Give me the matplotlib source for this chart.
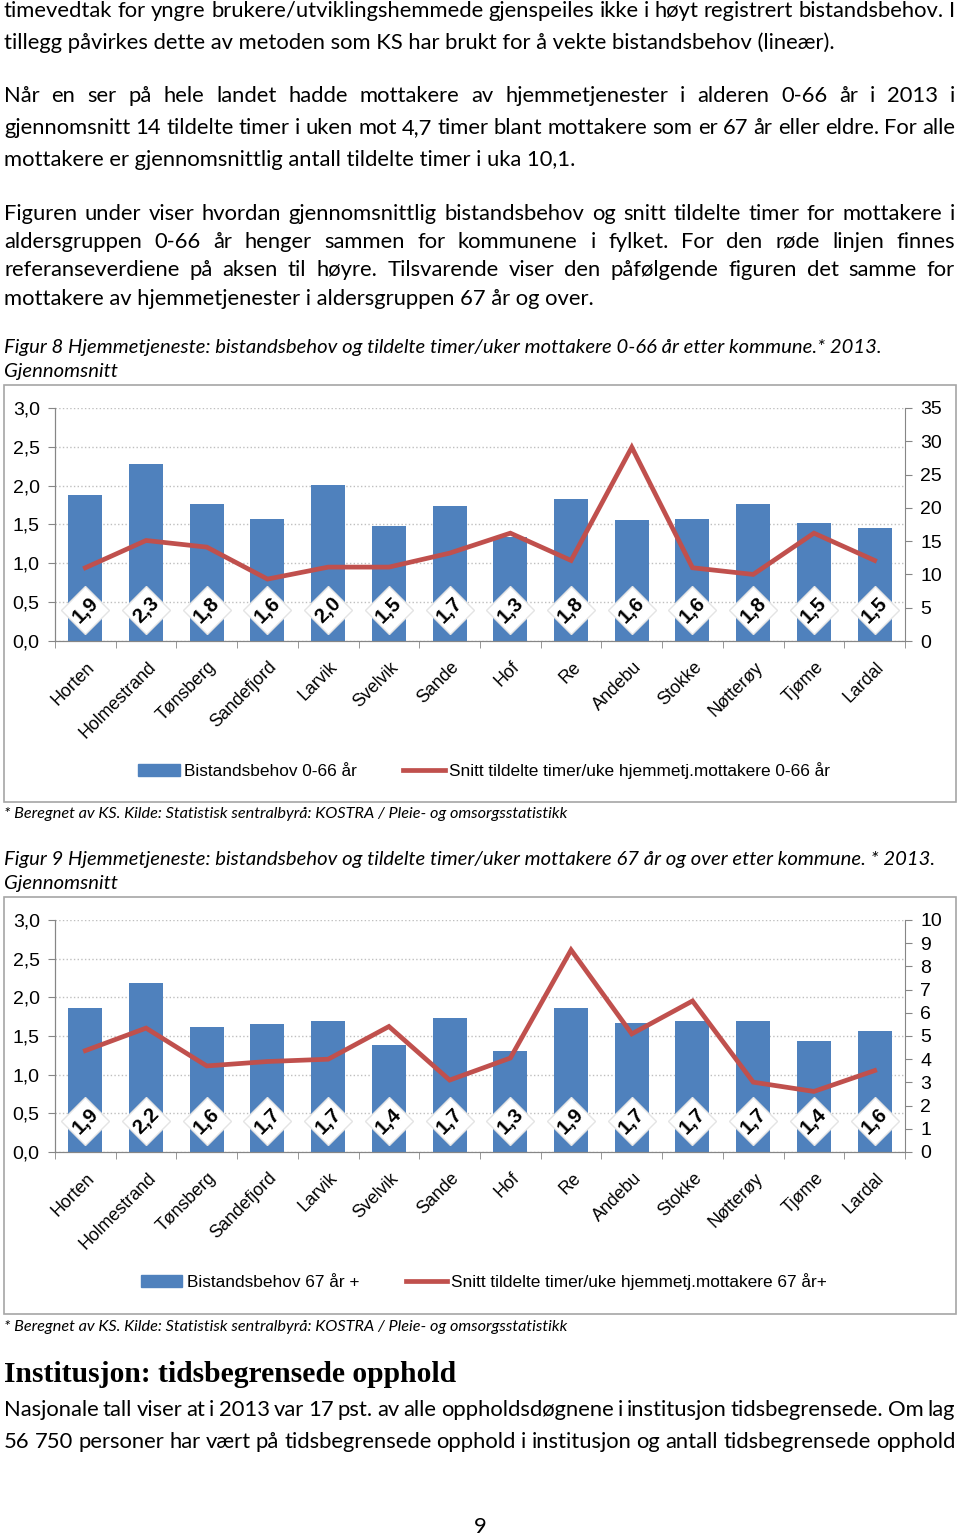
import matplotlib
matplotlib.use('Agg')
import matplotlib.pyplot as plt
from matplotlib.patches import Rectangle, Patch
from matplotlib.lines import Line2D
from matplotlib.transforms import ScaledTranslation

W, H = 960, 1537

# kommuner og verdier
kommuner = ['Horten', 'Holmestrand', 'Tønsberg', 'Sandefjord', 'Larvik', 'Svelvik', 'Sande',
            'Hof', 'Re', 'Andebu', 'Stokke', 'Nøtterøy', 'Tjøme', 'Lardal']

# Figur 8: 0-66 år
behov_066 = [1.88, 2.28, 1.77, 1.57, 2.01, 1.48, 1.74, 1.34, 1.83, 1.56, 1.57, 1.76, 1.52, 1.46]
timer_066 = [11.0, 15.1, 14.1, 9.3, 11.1, 11.1, 13.2, 16.2, 12.1, 29.1, 11.0, 10.0, 16.2, 12.1]

# Figur 9: 67 år og over
behov_67 = [1.86, 2.19, 1.61, 1.66, 1.70, 1.38, 1.73, 1.30, 1.86, 1.67, 1.70, 1.69, 1.43, 1.56]
timer_67 = [4.37, 5.34, 3.71, 3.90, 4.0, 5.41, 3.10, 4.05, 8.71, 5.09, 6.51, 3.01, 2.61, 3.51]

blaa = '#4F81BD'
roed = '#C0504D'
graa = '#868686'
chart_font = ['Liberation Sans Narrow', 'Liberation Sans', 'DejaVu Sans']
body_font = ['Lato', 'DejaVu Sans']

fig = plt.figure(figsize=(W / 100, H / 100), dpi=100)
renderer = fig.canvas.get_renderer()


def fx(x):
    return x / W


def fy(y):
    return 1 - y / H


def tekstlinje(y, tekst, justify=False, x0=4, x1=955, **kw):
    kw.setdefault('family', body_font)
    kw.setdefault('fontsize', 15.8)
    if not justify:
        fig.text(fx(x0), fy(y), tekst, va='center', ha='left', **kw)
        return
    ord_ = tekst.split(' ')
    bredder = []
    objs = []
    for o in ord_:
        t = fig.text(0, fy(y), o, va='center', ha='left', **kw)
        bredder.append(t.get_window_extent(renderer).width)
        objs.append(t)
    gap = (x1 - x0 - sum(bredder)) / (len(ord_) - 1)
    x = x0
    for t, b in zip(objs, bredder):
        t.set_x(fx(x))
        x += b + gap


# brødtekst
tekstlinje(11, 'timevedtak for yngre brukere/utviklingshemmede gjenspeiles ikke i høyt registrert bistandsbehov. I', True)
tekstlinje(43, 'tillegg påvirkes dette av metoden som KS har brukt for å vekte bistandsbehov (lineær).')
tekstlinje(96, 'Når en ser på hele landet hadde mottakere av hjemmetjenester i alderen 0-66 år i 2013 i', True)
tekstlinje(128, 'gjennomsnitt 14 tildelte timer i uken mot 4,7 timer blant mottakere som er 67 år eller eldre. For alle', True)
tekstlinje(160, 'mottakere er gjennomsnittlig antall tildelte timer i uka 10,1.')
tekstlinje(214, 'Figuren under viser hvordan gjennomsnittlig bistandsbehov og snitt tildelte timer for mottakere i', True)
tekstlinje(242, 'aldersgruppen 0-66 år henger sammen for kommunene i fylket. For den røde linjen finnes', True)
tekstlinje(270, 'referanseverdiene på aksen til høyre. Tilsvarende viser den påfølgende figuren det samme for', True)
tekstlinje(299, 'mottakere av hjemmetjenester i aldersgruppen 67 år og over.')

tekstlinje(347, 'Figur 8 Hjemmetjeneste: bistandsbehov og tildelte timer/uker mottakere 0-66 år etter kommune.* 2013.',
           style='italic', fontsize=14.6)
tekstlinje(372, 'Gjennomsnitt', style='italic', fontsize=14.6)
tekstlinje(814, '* Beregnet av KS. Kilde: Statistisk sentralbyrå: KOSTRA / Pleie- og omsorgsstatistikk',
           style='italic', fontsize=11.7)
tekstlinje(859, 'Figur 9 Hjemmetjeneste: bistandsbehov og tildelte timer/uker mottakere 67 år og over etter kommune. * 2013.',
           style='italic', fontsize=14.6)
tekstlinje(884, 'Gjennomsnitt', style='italic', fontsize=14.6)
tekstlinje(1327, '* Beregnet av KS. Kilde: Statistisk sentralbyrå: KOSTRA / Pleie- og omsorgsstatistikk',
           style='italic', fontsize=11.7)
tekstlinje(1375, 'Institusjon: tidsbegrensede opphold', family=['Liberation Serif', 'DejaVu Serif'],
           weight='bold', fontsize=21.3)
tekstlinje(1410, 'Nasjonale tall viser at i 2013 var 17 pst. av alle oppholdsdøgnene i institusjon tidsbegrensede. Om lag', True)
tekstlinje(1442, '56 750 personer har vært på tidsbegrensede opphold i institusjon og antall tidsbegrensede opphold', True)
fig.text(fx(480), fy(1527), '9', ha='center', va='center', family=body_font, fontsize=15.8)


def diagram(ramme_top, ramme_bunn, topp, bunn, behov, timer, ymax2, steg2, navn_bar, navn_linje):
    fig.add_artist(Rectangle((fx(4), fy(ramme_bunn)), fx(952), (ramme_bunn - ramme_top) / H,
                             transform=fig.transFigure, fill=False, edgecolor='#A6A6A6', lw=1.2))
    ax = fig.add_axes([fx(55), fy(bunn), fx(905 - 55), (bunn - topp) / H])
    ax2 = ax.twinx()
    x = list(range(len(kommuner)))

    ax.bar(x, behov, width=0.56, color=blaa, zorder=2)
    ax.set_ylim(0, 3)
    ax.set_xlim(-0.5, len(kommuner) - 0.5)
    ax.set_yticks([0, 0.5, 1.0, 1.5, 2.0, 2.5, 3.0])
    ax.set_yticklabels([f'{v:.1f}'.replace('.', ',') for v in ax.get_yticks()])
    ax.yaxis.grid(True, linestyle=':', color='#BFBFBF', lw=1)
    ax.set_axisbelow(True)

    # verdimerker i ruter
    ax.plot(x, [0.40] * len(x), linestyle='none', marker='D', ms=24,
            markerfacecolor='white', markeredgecolor='#E4E4E4', zorder=3)
    for xi, v in zip(x, behov):
        ax.text(xi, 0.40, f'{v:.1f}'.replace('.', ','), rotation=45, ha='center', va='center',
                rotation_mode='anchor', family=chart_font, weight='bold', fontsize=14.5, zorder=4)

    ax2.plot(x, timer, color=roed, lw=3.4, solid_joinstyle='miter', zorder=5)
    ax2.set_ylim(0, ymax2)
    ax2.set_yticks(range(0, ymax2 + 1, steg2))

    ax.set_xticks(x)
    ax.set_xticklabels(kommuner, rotation=45, ha='right', va='center', rotation_mode='anchor',
                       family=chart_font, fontsize=12.8)
    ax.tick_params(axis='x', length=0, pad=17)
    skift = ScaledTranslation(7 / 100, 0, fig.dpi_scale_trans)
    for lab in ax.get_xticklabels():
        lab.set_transform(lab.get_transform() + skift)
    ax.set_xticks([i + 0.5 for i in range(-1, len(kommuner))], minor=True)
    ax.tick_params(axis='x', which='minor', length=5, color=graa)

    for a in (ax, ax2):
        for s in a.spines.values():
            s.set_color(graa)
        a.spines['top'].set_visible(False)
        a.tick_params(axis='y', length=5, color=graa, labelsize=14, pad=6)
        for lab in a.get_yticklabels():
            lab.set_family(chart_font)
    ax.spines['right'].set_visible(False)

    handles = [Patch(color=blaa), Line2D([0], [0], color=roed, lw=3.4)]
    fig.legend(handles, [navn_bar, navn_linje], loc='center', ncol=2, frameon=False,
               bbox_to_anchor=(fx(484), fy(bunn + 130)), prop={'family': chart_font, 'size': 12.4},
               handlelength=2.4, handleheight=0.7, handletextpad=0.25, columnspacing=2.7)


diagram(385, 802, 408, 641, behov_066, timer_066, 35, 5,
        'Bistandsbehov 0-66 år', 'Snitt tildelte timer/uke hjemmetj.mottakere 0-66 år')
diagram(897, 1314, 920, 1152, behov_67, timer_67, 10, 1,
        'Bistandsbehov 67 år +', 'Snitt tildelte timer/uke hjemmetj.mottakere 67 år+')

fig.savefig('out.png', dpi=100)
